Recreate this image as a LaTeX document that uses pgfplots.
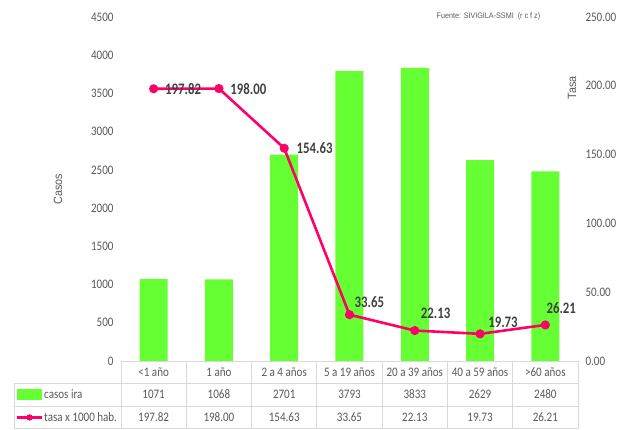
\documentclass[border=0pt]{standalone}
\usepackage{fontspec}
\setmainfont{Carlito}[FakeStretch=0.85]
\newfontfamily\arialf{Liberation Sans}[FakeStretch=0.9]
\usepackage{pgfplots}
\pgfplotsset{compat=1.18}
\usepackage{pgfplotstable}

\definecolor{barverde}{RGB}{102,255,51}
\definecolor{lineapink}{RGB}{255,0,102}
\definecolor{txtgris}{RGB}{89,89,89}
\definecolor{lblgris}{RGB}{64,64,64}
\definecolor{rejilla}{RGB}{217,217,217}

\pgfplotstableread[col sep=comma]{
x,grupo,casos,tasa,dx,dy
0,<1 año,1071,197.82,8,0
1,1 año,1068,198.00,8,0
2,2 a 4 años,2701,154.63,9,0
3,5 a 19 años,3793,33.65,4,6
4,20 a 39 años,3833,22.13,5,11
5,40 a 59 años,2629,19.73,7,5
6,>60 años,2480,26.21,0,10
}\datos

\newcommand{\tickfont}{\fontsize{13}{15}\selectfont}
\newcommand{\lblfont}{\fontspec{Carlito}[FakeStretch=0.8]\bfseries\fontsize{16}{18}\selectfont}

\begin{document}
\begin{tikzpicture}
\useasboundingbox (-121pt,-68pt) rectangle (511pt,361pt);

% eje principal: casos
\begin{axis}[
    at={(0,0)}, anchor=south west,
    scale only axis, width=457pt, height=344pt,
    xmin=-0.5, xmax=6.5, ymin=0, ymax=4500,
    ytick distance=500, xtick=\empty,
    major tick length=0pt,
    axis line style={draw=none},
    clip=false,
    /pgf/number format/assume math mode=true,
    /pgf/number format/1000 sep={},
    yticklabel style={font=\tickfont, text=txtgris, xshift=-4pt},
    ylabel={Casos},
    ylabel style={at={(axis description cs:-0.138,0.5)}, anchor=center,
        font=\arialf\fontsize{12}{14}\selectfont, text=txtgris},
]
\addplot[ybar, bar width=28pt, fill=barverde, draw=none]
    table[x=x, y=casos] {\datos};
% fila de categorias de la tabla
\addplot[draw=none, point meta=explicit symbolic,
    nodes near coords={\pgfplotspointmeta},
    nodes near coords style={anchor=center, font=\tickfont, text=txtgris}]
    table[x=x, y expr=-143.9, meta=grupo] {\datos};
% fila casos ira
\addplot[draw=none, point meta=explicit,
    nodes near coords={\pgfmathprintnumber[fixed,precision=0,1000 sep={}]{\pgfplotspointmeta}},
    nodes near coords style={anchor=center, font=\tickfont, text=txtgris}]
    table[x=x, y expr=-438.2, meta=casos] {\datos};
% fila tasa
\addplot[draw=none, point meta=explicit,
    nodes near coords={\pgfmathprintnumber[fixed,fixed zerofill,precision=2]{\pgfplotspointmeta}},
    nodes near coords style={anchor=center, font=\tickfont, text=txtgris}]
    table[x=x, y expr=-739.1, meta=tasa] {\datos};
\end{axis}

% eje secundario: tasa
\begin{axis}[
    at={(0,0)}, anchor=south west,
    scale only axis, width=457pt, height=344pt,
    xmin=-0.5, xmax=6.5, ymin=0, ymax=250,
    ytick distance=50, xtick=\empty,
    axis y line*=right, axis x line=none,
    major tick length=0pt,
    axis line style={draw=none},
    clip=false,
    /pgf/number format/assume math mode=true,
    yticklabel={\pgfmathprintnumber[fixed,fixed zerofill,precision=2]{\tick}},
    yticklabel style={font=\tickfont, text=txtgris, xshift=4pt},
    ylabel={Tasa},
    ylabel style={at={(axis description cs:0.987,0.794)}, anchor=center, rotate=0,
        font=\arialf\fontsize{12}{14}\selectfont, text=txtgris},
]
\addplot[color=lineapink, line width=2.6pt, mark=*, mark size=3.2pt,
    mark options={fill=lineapink}]
    table[x=x, y=tasa] {\datos};
\addplot[draw=none, point meta=explicit, restrict x to domain=0:2,
    visualization depends on={\thisrow{dx} \as \dx},
    nodes near coords={\pgfmathprintnumber[fixed,fixed zerofill,precision=2]{\pgfplotspointmeta}},
    nodes near coords style={anchor=west, xshift=\dx pt, font=\lblfont, text=lblgris}]
    table[x=x, y=tasa, meta=tasa] {\datos};
\addplot[draw=none, point meta=explicit, restrict x to domain=3:6,
    visualization depends on={\thisrow{dx} \as \dx},
    visualization depends on={\thisrow{dy} \as \dy},
    nodes near coords={\pgfmathprintnumber[fixed,fixed zerofill,precision=2]{\pgfplotspointmeta}},
    nodes near coords style={anchor=south west, inner sep=1pt, xshift=\dx pt, yshift=\dy pt,
        font=\lblfont, text=lblgris}]
    table[x=x, y=tasa, meta=tasa] {\datos};
\node[font=\arialf\fontsize{8}{10}\selectfont, text=txtgris, anchor=center]
    at (axis description cs:0.804,1.003) {Fuente: SIVIGILA-SSMI \ (r c f z)};
\end{axis}

% rejilla de la tabla
\draw[rejilla, line width=0.8pt]
    (0,0) -- (457pt,0)
    (-107pt,-22pt) -- (457pt,-22pt)
    (-107pt,-45pt) -- (457pt,-45pt)
    (-107pt,-67.6pt) -- (457pt,-67.6pt)
    (-107pt,-22pt) -- (-107pt,-68pt);
\foreach \k in {0,...,7} {
    \draw[rejilla, line width=0.8pt] ({\k*457pt/7},0) -- ({\k*457pt/7},-68pt);
}
% claves de leyenda
\fill[barverde] (-104pt,-39pt) rectangle (-79pt,-28pt);
\draw[lineapink, line width=2.6pt] (-104pt,-56.5pt) -- (-79pt,-56.5pt);
\fill[lineapink] (-91.5pt,-56.5pt) circle (3.2pt);
\node[anchor=west, font=\tickfont, text=txtgris, inner sep=1pt] at (-78pt,-33.5pt) {casos ira};
\node[anchor=west, font=\tickfont, text=txtgris, inner sep=1pt] at (-78pt,-56.5pt) {tasa x 1000 hab.};
\end{tikzpicture}
\end{document}
